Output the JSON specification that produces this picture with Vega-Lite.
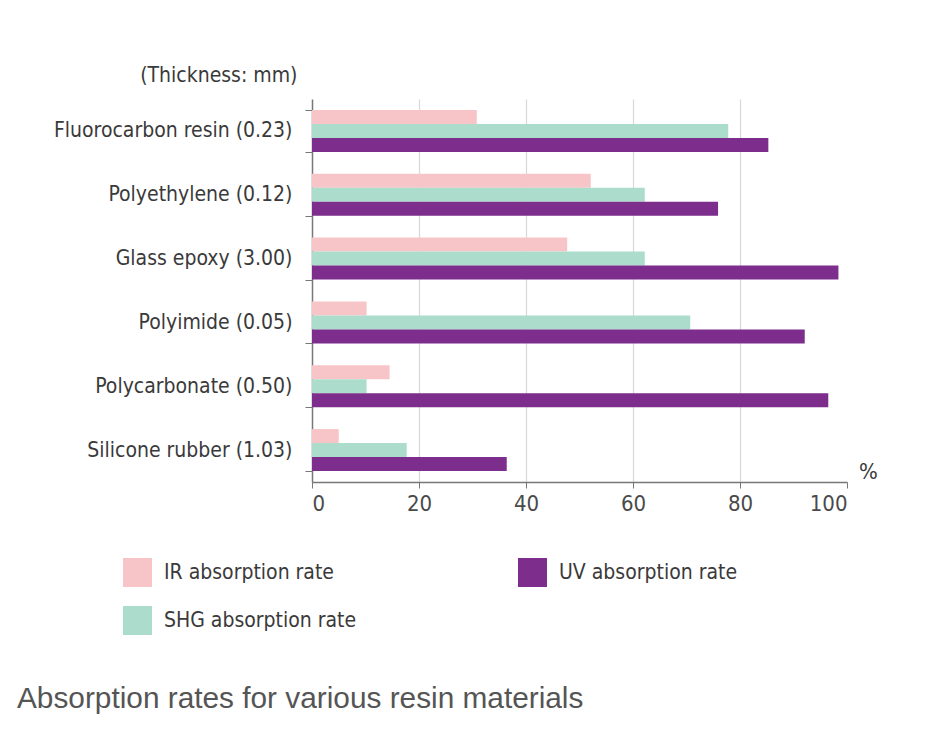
{
  "$schema": "https://vega.github.io/schema/vega-lite/v6.json",
  "autosize": {"type": "none"},
  "padding": {"left": 312, "top": 99, "right": 100, "bottom": 251},
  "width": 535,
  "height": 383,
  "background": "white",
  "title": {
    "text": "Absorption rates for various resin materials",
    "orient": "bottom",
    "anchor": "start",
    "frame": "group",
    "dx": -295,
    "offset": 49,
    "font": "Liberation Sans, Arial, sans-serif",
    "fontSize": 29.8,
    "fontWeight": "normal",
    "color": "#555555"
  },
  "data": {
    "values": [
      {"material": "Fluorocarbon resin (0.23)", "type": "IR absorption rate", "value": 30.8},
      {"material": "Fluorocarbon resin (0.23)", "type": "SHG absorption rate", "value": 77.8},
      {"material": "Fluorocarbon resin (0.23)", "type": "UV absorption rate", "value": 85.3},
      {"material": "Polyethylene (0.12)", "type": "IR absorption rate", "value": 52.1},
      {"material": "Polyethylene (0.12)", "type": "SHG absorption rate", "value": 62.2},
      {"material": "Polyethylene (0.12)", "type": "UV absorption rate", "value": 75.9},
      {"material": "Glass epoxy (3.00)", "type": "IR absorption rate", "value": 47.7},
      {"material": "Glass epoxy (3.00)", "type": "SHG absorption rate", "value": 62.2},
      {"material": "Glass epoxy (3.00)", "type": "UV absorption rate", "value": 98.4},
      {"material": "Polyimide (0.05)", "type": "IR absorption rate", "value": 10.2},
      {"material": "Polyimide (0.05)", "type": "SHG absorption rate", "value": 70.7},
      {"material": "Polyimide (0.05)", "type": "UV absorption rate", "value": 92.1},
      {"material": "Polycarbonate (0.50)", "type": "IR absorption rate", "value": 14.5},
      {"material": "Polycarbonate (0.50)", "type": "SHG absorption rate", "value": 10.2},
      {"material": "Polycarbonate (0.50)", "type": "UV absorption rate", "value": 96.5},
      {"material": "Silicone rubber (1.03)", "type": "IR absorption rate", "value": 5.0},
      {"material": "Silicone rubber (1.03)", "type": "SHG absorption rate", "value": 17.7},
      {"material": "Silicone rubber (1.03)", "type": "UV absorption rate", "value": 36.4}
    ]
  },
  "mark": {"type": "bar", "cornerRadius": 0},
  "encoding": {
    "y": {
      "field": "material",
      "type": "nominal",
      "sort": null,
      "scale": {"paddingInner": 0.342, "paddingOuter": 0.171},
      "axis": {
        "title": "(Thickness: mm)",
        "titleAngle": 0,
        "titleAlign": "right",
        "titleBaseline": "middle",
        "titleX": -15,
        "titleY": -24,
        "titleFont": "DejaVu Sans Condensed, sans-serif",
        "titleFontSize": 21,
        "titleFontWeight": "normal",
        "titleColor": "#3a3a3a",
        "labelFont": "DejaVu Sans Condensed, sans-serif",
        "labelFontSize": 21,
        "labelLimit": 400,
        "labelColor": "#3a3a3a",
        "labelPadding": 13,
        "tickBand": "extent",
        "tickSize": 7,
        "tickColor": "#777777",
        "domainColor": "#777777",
        "domainWidth": 1.5,
        "grid": false
      }
    },
    "yOffset": {
      "field": "type",
      "type": "nominal",
      "sort": ["IR absorption rate", "SHG absorption rate", "UV absorption rate"],
      "scale": {"paddingInner": 0, "paddingOuter": 0}
    },
    "x": {
      "field": "value",
      "type": "quantitative",
      "scale": {"domain": [0, 100], "nice": false},
      "axis": {
        "title": "%",
        "titleAngle": 0,
        "titleAlign": "center",
        "titleBaseline": "middle",
        "titleX": 556,
        "titleY": -11,
        "titleFont": "DejaVu Sans Condensed, sans-serif",
        "titleFontSize": 22,
        "titleFontWeight": "normal",
        "titleColor": "#3a3a3a",
        "values": [0, 20, 40, 60, 80, 100],
        "labelFont": "DejaVu Sans Condensed, sans-serif",
        "labelFontSize": 22,
        "labelColor": "#4a4a4a",
        "labelPadding": 5,
        "tickSize": 6,
        "tickColor": "#777777",
        "domainColor": "#777777",
        "domainWidth": 1.5,
        "grid": true,
        "gridColor": "#d8d8d8",
        "gridWidth": 1.2,
        "gridOpacity": {"condition": {"test": "datum.value === 100 || datum.value === 0", "value": 0}, "value": 1}
      }
    },
    "color": {
      "field": "type",
      "type": "nominal",
      "scale": {
        "domain": ["IR absorption rate", "UV absorption rate", "SHG absorption rate"],
        "range": ["#f7c5c7", "#7d2d8b", "#acdccb"]
      },
      "legend": {
        "title": null,
        "orient": "none",
        "legendX": -189,
        "legendY": 459,
        "columns": 2,
        "direction": "horizontal",
        "symbolType": "square",
        "symbolSize": 840,
        "symbolStrokeWidth": 0,
        "symbolOpacity": 1,
        "labelFont": "DejaVu Sans Condensed, sans-serif",
        "labelFontSize": 21,
        "labelColor": "#3a3a3a",
        "labelOffset": 12,
        "labelLimit": 400,
        "columnPadding": 161,
        "rowPadding": 19
      }
    }
  },
  "config": {
    "view": {"stroke": null}
  }
}
